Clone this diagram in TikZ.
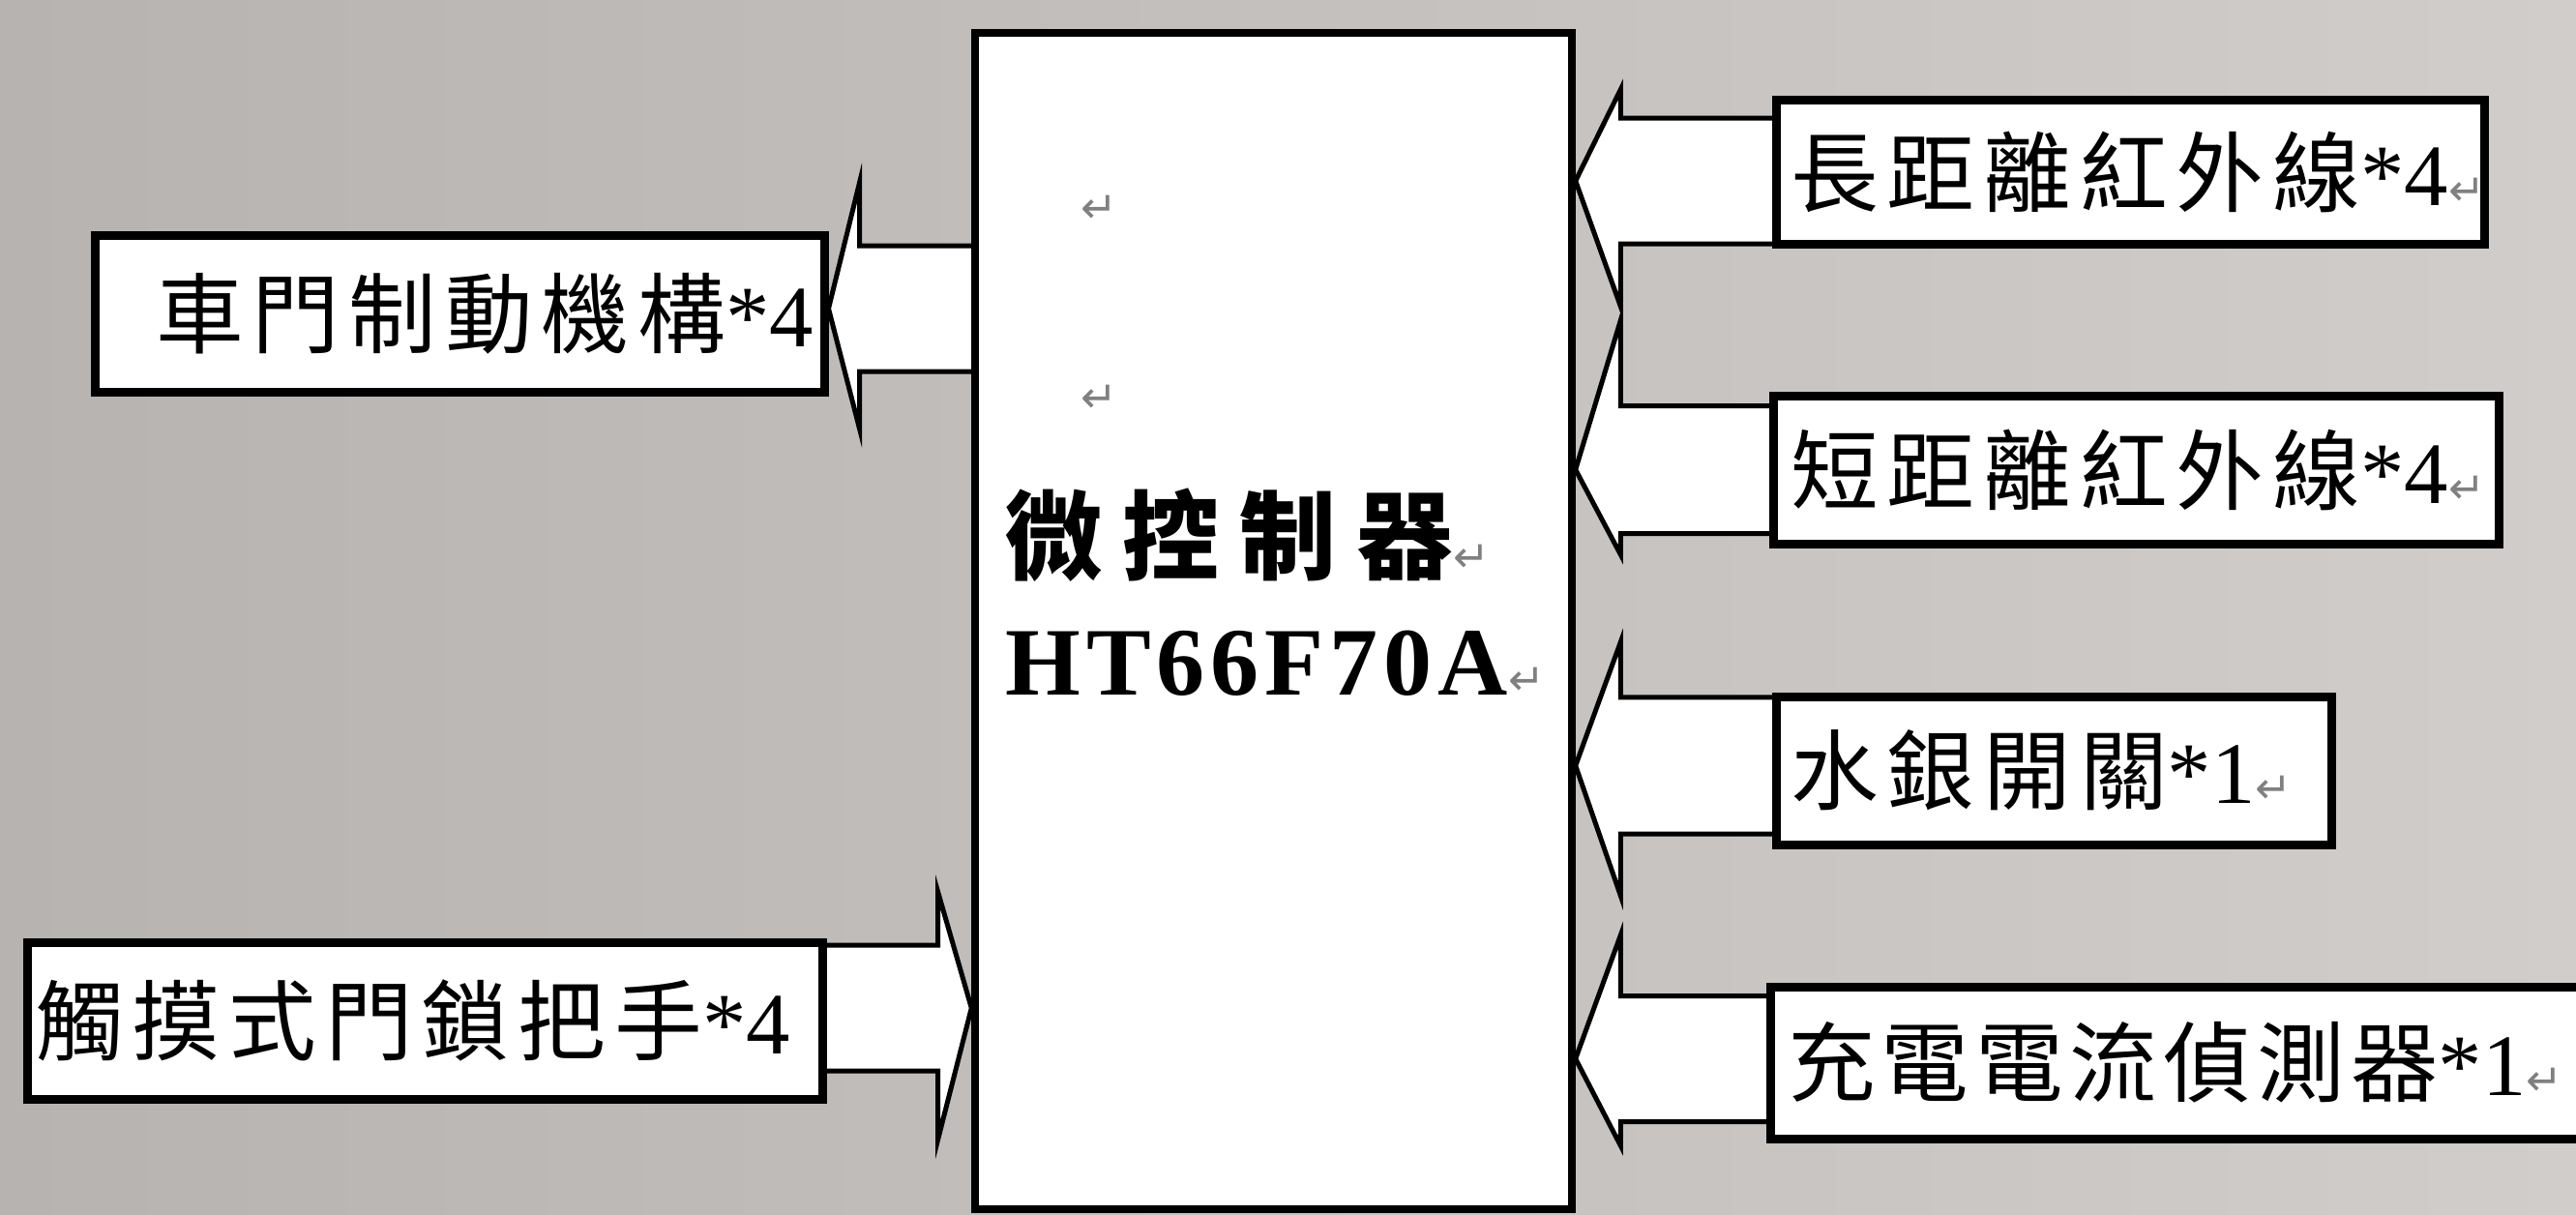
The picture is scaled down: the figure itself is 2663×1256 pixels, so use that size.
\documentclass[tikz,border=0pt]{standalone}
\usepackage{fontspec}
\setmainfont{Liberation Serif}
\newfontfamily\cjkfont[LetterSpace=10]{Noto Sans CJK TC}
\newfontfamily\cjktightfont[LetterSpace=7]{Noto Sans CJK TC}
\newfontfamily\cjkboldfont[LetterSpace=21]{Noto Sans CJK TC}
\newfontfamily\chipfont[LetterSpace=6]{Liberation Serif}
\newfontfamily\markfont{DejaVu Sans}
\usetikzlibrary{calc}

\definecolor{bgleft}{RGB}{182,179,177}
\definecolor{bgright}{RGB}{208,205,203}
\definecolor{parmark}{RGB}{128,128,128}

\newcommand{\pmk}{{\color{parmark}\markfont\fontsize{34}{34}\selectfont ↵}}

\pgfdeclarelayer{bg}
\pgfdeclarelayer{mid}
\pgfsetlayers{bg,mid,main}

\tikzset{
  unitbox/.style={draw=black, fill=white, line width=6.75pt, align=left, inner ysep=0pt,
    font=\fontsize{68}{80}\selectfont},
  mcubox/.style={draw=black, fill=white, line width=5.6pt, inner sep=0pt},
  blockarrow/.style n args={4}{draw=black, fill=white, line width=3.75pt,
    to path={let \p1=(\tikztostart), \p2=(\tikztotarget), \n1={sign(\x2-\x1)*#4} in
      (\x1,{\y1-#1}) -- ({\x2-\n1},{\y1-#1}) -- ({\x2-\n1},{\y1-#2}) -- (\x2,\y1)
      -- ({\x2-\n1},{\y1+#3}) -- ({\x2-\n1},{\y1+#1}) -- (\x1,{\y1+#1}) -- cycle}}
}

\begin{document}
\begin{tikzpicture}[x=0.75pt,y=0.75pt,yscale=-1,xscale=1]
\useasboundingbox (0,0) rectangle (2663,1256);
\clip (0,0) rectangle (2663,1256);

%Background
\begin{pgfonlayer}{bg}
\shade[left color=bgleft, right color=bgright] (0,0) rectangle (2663,1256);
\end{pgfonlayer}

%Microcontroller
\node[mcubox, minimum width=462.75pt, minimum height=912pt] (mcu) at (1316.5,642) {};
\node[anchor=north west, align=left, inner sep=0pt, font=\fontsize{75}{95}\selectfont] (mcutext) at (1039,505) {{\cjkboldfont\bfseries 微控制器}\pmk\\{\chipfont\bfseries HT66F70A}\pmk};
\node[inner sep=0pt] (blank1) at (1136,216) {\pmk};
\node[inner sep=0pt] (blank2) at (1136,412) {\pmk};

%Output: door brake
\node[unitbox, minimum width=565.5pt, minimum height=121.5pt, inner xsep=47.25pt, text width=471pt] (brake) at (475,324) {{\cjkfont 車門制動機構}*4};
%Input: touch door handle
\node[unitbox, minimum width=616.5pt, minimum height=121.5pt, inner xsep=6.75pt, text width=603pt] (handle) at (439,1055) {{\cjkfont 觸摸式門鎖把手}*4};

%Inputs on the right
\node[unitbox, minimum width=549pt, minimum height=111pt, inner xsep=11.25pt, text width=526.5pt] (longir) at (2202,178) {{\cjkfont 長距離紅外線}*4\pmk};
\node[unitbox, minimum width=562.5pt, minimum height=114.75pt, inner xsep=13.5pt, text width=535.5pt] (shortir) at (2208,485.5) {{\cjkfont 短距離紅外線}*4\pmk};
\node[unitbox, minimum width=430.5pt, minimum height=114.75pt, inner xsep=11.25pt, text width=408pt] (tilt) at (2123,796.5) {{\cjkfont 水銀開關}*1\pmk};
\node[unitbox, minimum width=652.5pt, minimum height=117.75pt, inner xsep=13.5pt, text width=625.5pt] (charge) at (2265,1098.5) {{\cjktightfont 充電電流偵測器}*1\pmk};

%Arrow tails
\coordinate (brakeout) at ($(mcu.center |- brake.center)+(0,-5)$);
\coordinate (handlein) at ($(handle.center)+(0,-13)$);
\coordinate (longin) at ($(longir.center)+(0,9)$);
\coordinate (shortin) at (shortir.center);
\coordinate (tiltin) at ($(tilt.center)+(0,-5)$);
\coordinate (chargein) at ($(charge.center)+(0,-4)$);

%Block arrows
\begin{pgfonlayer}{mid}
\draw[blockarrow={48.75pt}{97.5pt}{93pt}{24pt}] (brakeout) to (brake.east);
\draw[blockarrow={48.75pt}{90pt}{102pt}{26pt}] (handlein) to (mcu.west);
\draw[blockarrow={48.75pt}{71pt}{97.5pt}{35pt}] (longin) to (mcu.east);
\draw[blockarrow={49.5pt}{116pt}{66pt}{35pt}] (shortin) to (mcu.east);
\draw[blockarrow={53pt}{96pt}{101pt}{35pt}] (tiltin) to (mcu.east);
\draw[blockarrow={48.75pt}{96pt}{67.5pt}{35pt}] (chargein) to (mcu.east);
\end{pgfonlayer}

\end{tikzpicture}
\end{document}
